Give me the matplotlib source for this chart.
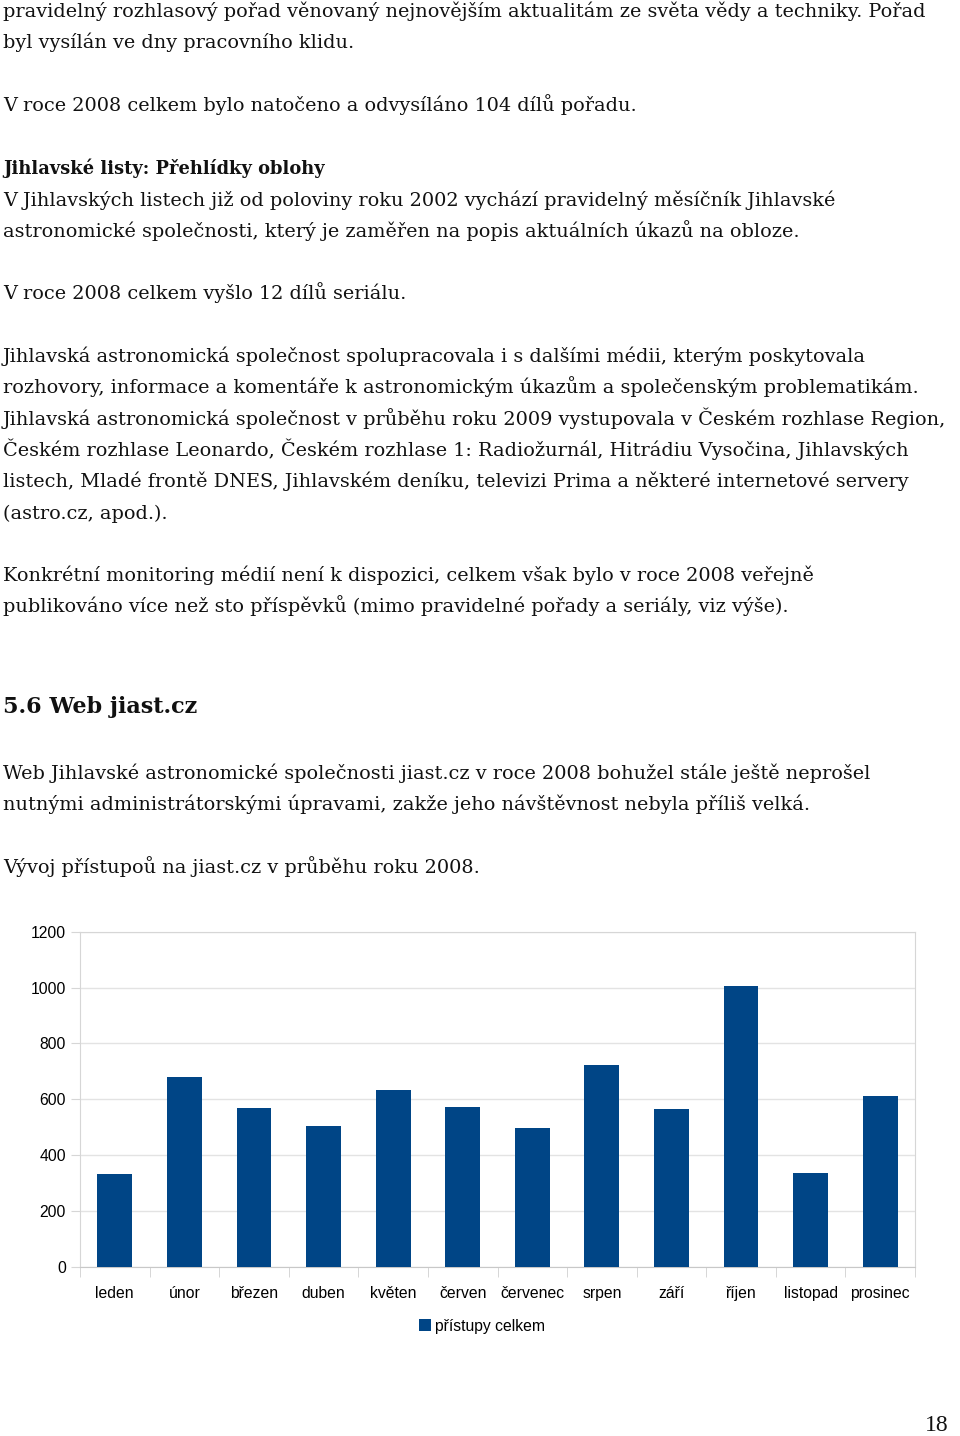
import matplotlib
matplotlib.use('Agg')
import matplotlib.pyplot as plt
from matplotlib.patches import Patch

W, H = 960, 1436

# chart data
months = ['leden', 'únor', 'březen', 'duben', 'květen', 'červen',
          'červenec', 'srpen', 'září', 'říjen', 'listopad', 'prosinec']
visits = [331, 678, 567, 504, 632, 572, 498, 721, 564, 1006, 336, 613]
series_name = 'přístupy celkem'
yticks = [0, 200, 400, 600, 800, 1000, 1200]

# page text
body_lines = [
    'pravidelný rozhlasový pořad věnovaný nejnovějším aktualitám ze světa vědy a techniky. Pořad',
    'byl vysílán ve dny pracovního klidu.',
    'V roce 2008 celkem bylo natočeno a odvysíláno 104 dílů pořadu.',
    'V Jihlavských listech již od poloviny roku 2002 vychází pravidelný měsíčník Jihlavské',
    'astronomické společnosti, který je zaměřen na popis aktuálních úkazů na obloze.',
    'V roce 2008 celkem vyšlo 12 dílů seriálu.',
    'Jihlavská astronomická společnost spolupracovala i s dalšími médii, kterým poskytovala',
    'rozhovory, informace a komentáře k astronomickým úkazům a společenským problematikám.',
    'Jihlavská astronomická společnost v průběhu roku 2009 vystupovala v Českém rozhlase Region,',
    'Českém rozhlase Leonardo, Českém rozhlase 1: Radiožurnál, Hitrádiu Vysočina, Jihlavských',
    'listech, Mladé frontě DNES, Jihlavském deníku, televizi Prima a některé internetové servery',
    '(astro.cz, apod.).',
    'Konkrétní monitoring médií není k dispozici, celkem však bylo v roce 2008 veřejně',
    'publikováno více než sto příspěvků (mimo pravidelné pořady a seriály, viz výše).',
    'Web Jihlavské astronomické společnosti jiast.cz v roce 2008 bohužel stále ještě neprošel',
    'nutnými administrátorskými úpravami, zakže jeho návštěvnost nebyla příliš velká.',
    'Vývoj přístupoů na jiast.cz v průběhu roku 2008.',
]
body_baselines = [17, 48, 111, 206, 237, 299, 362, 393, 425, 456, 487, 519,
                  581, 612, 779, 810, 873]
heading1 = 'Jihlavské listy: Přehlídky oblohy'
heading2 = '5.6 Web jiast.cz'
page_no = '18'

fig = plt.figure(figsize=(W / 100, H / 100), dpi=100)

def put(x, y, s, **kw):
    fig.text(x / W, 1 - y / H, s, va='baseline', **kw)

for s, y in zip(body_lines, body_baselines):
    put(3, y, s, family='DejaVu Serif', fontsize=13.9, color='#111111')
put(3, 174, heading1, family='DejaVu Serif', fontsize=12.9, weight='bold', color='#111111')
put(3, 713, heading2, family='DejaVu Serif', fontsize=16, weight='bold', color='#111111')
put(949, 1431, page_no, family='Liberation Serif', fontsize=17, ha='right', color='#111111')

# bar chart
ax = fig.add_axes([80 / W, 1 - 1266.7 / H, 835 / W, 335 / H])
x = range(len(months))
ax.bar(x, visits, width=0.5, color='#004586', zorder=3)
ax.set_xlim(-0.5, len(months) - 0.5)
ax.set_ylim(0, 1200)
ax.set_yticks(yticks)
ax.set_yticklabels([str(v) for v in yticks])
ax.set_xticks(list(x))
ax.set_xticklabels(months)
ax.set_xticks([i - 0.5 for i in range(len(months) + 1)], minor=True)
ax.grid(axis='y', color='#e3e3e3', linewidth=1, zorder=0)
for sp in ax.spines.values():
    sp.set_color('#d6d6d6')
ax.spines['bottom'].set_color('#c8c8c8')
ax.tick_params(axis='x', which='major', length=0, pad=14, labelsize=11.3,
               labelfontfamily='Liberation Sans')
ax.tick_params(axis='x', which='minor', length=7, color='#d0d0d0', direction='out')
ax.tick_params(axis='y', length=6.5, color='#d6d6d6', pad=3.5, labelsize=11.3,
               labelfontfamily='Liberation Sans')

fig.legend(handles=[Patch(facecolor='#004586', label=series_name)],
           loc='center', bbox_to_anchor=(482 / W, 1 - 1326 / H), frameon=False,
           prop={'family': 'Liberation Sans', 'size': 11.3},
           handlelength=0.75, handleheight=0.75, handletextpad=0.3)

fig.savefig('out.png', dpi=100)
